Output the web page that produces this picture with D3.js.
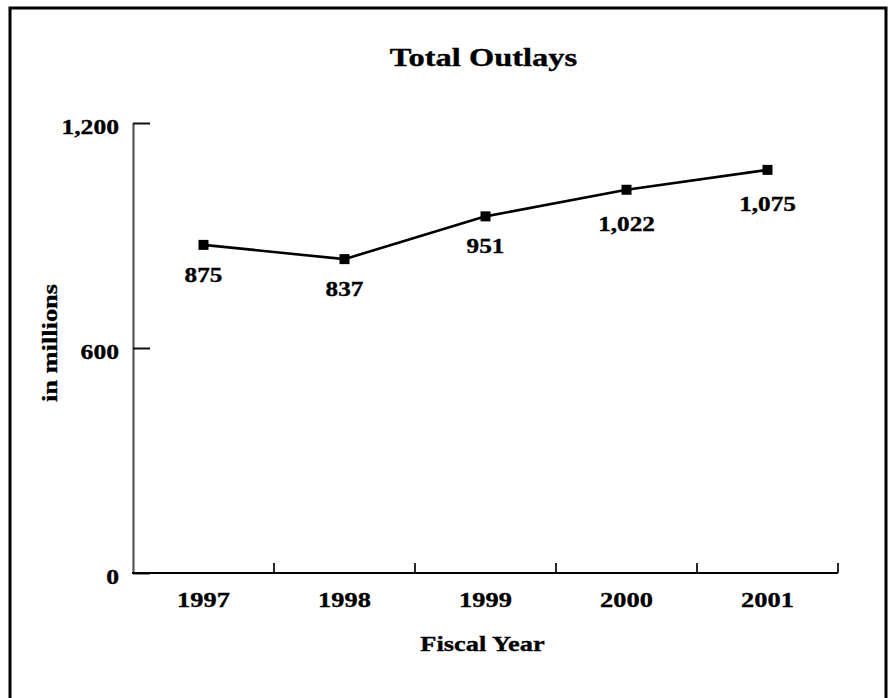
<!DOCTYPE html>
<html>
<head>
<meta charset="utf-8">
<script src="https://cdn.jsdelivr.net/npm/d3@7/dist/d3.min.js"></script>
<style>
  html, body { margin: 0; padding: 0; background: #fff; }
  svg { display: block; }
  text { font-family: "Liberation Serif", "Times New Roman", serif; font-weight: bold; fill: #000;
         stroke: #000; stroke-width: 0.35px; }
</style>
</head>
<body>
<script>
// Fiscal years and total outlays (in millions)
const years = ["1997", "1998", "1999", "2000", "2001"];
const outlays = [875, 837, 951, 1022, 1075];
const yTicks = [0, 600, 1200];

const W = 888, H = 698;
const plot = { left: 133, right: 838, top: 123, bottom: 573 };
const stretch = 1.2; // wide setting of the serif lettering

const svg = d3.select("body").append("svg")
  .attr("width", W).attr("height", H);

// outer frame
svg.append("rect")
  .attr("x", 10).attr("y", 8)
  .attr("width", 876).attr("height", 700)
  .attr("fill", "none").attr("stroke", "#000").attr("stroke-width", 3);

const x = d3.scaleBand().domain(years).range([plot.left, plot.right]).padding(0);
const y = d3.scaleLinear().domain([0, 1200]).range([plot.bottom, plot.top]);

// helper: stretched text placed at (px, py)
function label(parent, px, py, str, size, anchor, rotate, sx) {
  const g = parent.append("g")
    .attr("transform", `translate(${px},${py})` + (rotate ? ` rotate(${rotate})` : ""));
  return g.append("text")
    .attr("transform", `scale(${sx || stretch},1)`)
    .attr("text-anchor", anchor || "middle")
    .style("font-size", size + "px")
    .text(str);
}

// title
label(svg, (plot.left + plot.right) / 2 - 2, 66, "Total Outlays", 26, "middle", 0, 1.25);

// y axis
const yAxis = svg.append("g")
  .attr("transform", `translate(${plot.left},0)`)
  .call(d3.axisLeft(y).tickValues(yTicks).tickSizeInner(-17).tickSizeOuter(0)
    .tickFormat(d3.format(",")));
yAxis.select(".domain").attr("stroke", "#555").attr("stroke-width", 2.2);
yAxis.selectAll(".tick line").attr("stroke", "#111").attr("stroke-width", 2);
yAxis.selectAll(".tick text")
  .attr("x", null).attr("dy", null)
  .attr("transform", `translate(-14,10.5) scale(${stretch * 0.97},1)`)
  .attr("text-anchor", "end")
  .style("font-size", "22px")
  .style("font-family", null);

// x axis baseline
svg.append("line")
  .attr("x1", plot.left - 1).attr("x2", plot.right)
  .attr("y1", y(0)).attr("y2", y(0))
  .attr("stroke", "#000").attr("stroke-width", 2.2);

// tick marks at the category boundaries
svg.selectAll("line.bound")
  .data(years)
  .join("line")
  .attr("class", "bound")
  .attr("x1", d => x(d) + x.bandwidth()).attr("x2", d => x(d) + x.bandwidth())
  .attr("y1", y(0) - 10).attr("y2", y(0))
  .attr("stroke", "#111").attr("stroke-width", 1.8);

// year labels
years.forEach(d => label(svg, x(d) + x.bandwidth() / 2, 607, d, 22));

// axis titles
label(svg, (plot.left + plot.right) / 2 - 3, 651, "Fiscal Year", 22);
label(svg, 57, 343, "in millions", 22, "middle", -90);

// series line
const pts = years.map((d, i) => [x(d) + x.bandwidth() / 2, y(outlays[i])]);
svg.append("path")
  .attr("d", d3.line()(pts))
  .attr("fill", "none").attr("stroke", "#000").attr("stroke-width", 2.6);

// square markers
svg.selectAll("rect.mk")
  .data(pts)
  .join("rect")
  .attr("class", "mk")
  .attr("x", p => p[0] - 5).attr("y", p => p[1] - 5)
  .attr("width", 10).attr("height", 10)
  .attr("fill", "#000");

// value labels under each point
const fmt = d3.format(",");
pts.forEach((p, i) => label(svg, p[0], p[1] + (outlays[i] >= 1000 ? 41 : 37), fmt(outlays[i]), 21));
</script>
</body>
</html>
